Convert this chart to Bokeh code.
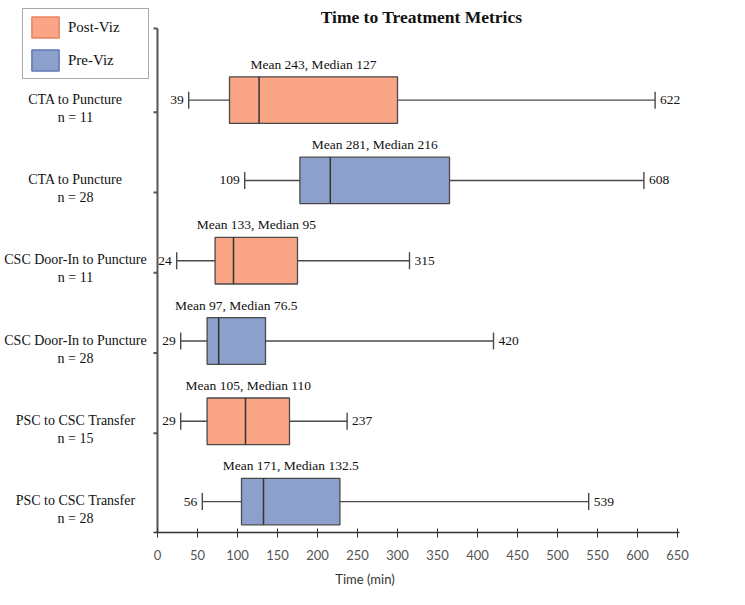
from bokeh.plotting import figure
from bokeh.models import (Range1d, FixedTicker, Legend, LegendItem,
                          ColumnDataSource, Whisker, TeeHead, LinearAxis)
from bokeh.core.properties import value
from bokeh.embed import file_html
from bokeh.resources import INLINE

# ---------------- data ----------------
categories = ["CTA to Puncture", "CTA to Puncture",
              "CSC Door-In to Puncture", "CSC Door-In to Puncture",
              "PSC to CSC Transfer", "PSC to CSC Transfer"]
n_values = [11, 28, 11, 28, 15, 28]
groups = ["Post-Viz", "Pre-Viz", "Post-Viz", "Pre-Viz", "Post-Viz", "Pre-Viz"]
mins = [39, 109, 24, 29, 29, 56]
q1s = [90, 178, 72, 62, 62, 105]
medians = [127, 216, 95, 76.5, 110, 132.5]
q3s = [300, 365, 175, 135, 165, 228]
maxs = [622, 608, 315, 420, 237, 539]
means = [243, 281, 133, 97, 105, 171]
x_ticks = [0, 50, 100, 150, 200, 250, 300, 350, 400, 450, 500, 550, 600, 650]
legend_labels = ["Post-Viz", "Pre-Viz"]
title_text = "Time to Treatment Metrics"
x_label = "Time (min)"

# ---------------- styles / layout ----------------
FILL = {"Post-Viz": "#FAA586", "Pre-Viz": "#8DA0CB"}
EDGE = {"Post-Viz": "#E8835F", "Pre-Viz": "#5C78B4"}
SERIF = "Liberation Serif"
SANS = "Lato"
INK = "#111111"
BOX_H = 0.58
Y_START, Y_END = 0.615, 7.241      # vertical view
AXIS_TOP = 6.893                   # top end of the drawn y axis line
X_START, X_END = -196.25, 715.0    # horizontal view (label area on the left)
NAN = float("nan")

ypos = list(range(len(categories), 0, -1))
src = ColumnDataSource(dict(
    y=ypos,
    lo=mins, q1=q1s, med=medians, q3=q3s, hi=maxs,
    fill=[FILL[g] for g in groups],
    ytop=[y + BOX_H / 2 for y in ypos],
    ybot=[y - BOX_H / 2 for y in ypos],
    ylab=[y - 0.1 for y in ypos],
    mid=[(a + b) / 2 for a, b in zip(q1s, q3s)],
    note=[f"Mean {m:g}, Median {d:g}" for m, d in zip(means, medians)],
    lo_txt=[f"{v:g}" for v in mins],
    hi_txt=[f"{v:g}" for v in maxs],
    cat_txt=[f"{c}\nn = {n}" for c, n in zip(categories, n_values)],
    zero=[0] * len(ypos),
))

p = figure(width=729, height=589, output_backend="svg", toolbar_location=None,
           x_range=Range1d(X_START, X_END), y_range=Range1d(Y_START, Y_END),
           x_axis_location=None, y_axis_location=None,
           min_border_left=0, min_border_right=0,
           min_border_top=0, min_border_bottom=55)
p.title = None
p.outline_line_color = None
p.xgrid.visible = False
p.ygrid.visible = False
p.background_fill_color = "white"
p.border_fill_color = "white"

# ---- y axis drawn inside the frame at x = 0 ----
ytick_vals = [y - 0.15 for y in ypos[:-1]] + [AXIS_TOP]
p.segment(x0=[0], x1=[0], y0=[Y_START], y1=[AXIS_TOP],
          line_color="#555555", line_width=2)
p.segment(x0=[0] * len(ytick_vals), x1=[-5] * len(ytick_vals),
          y0=ytick_vals, y1=ytick_vals, line_color="#555555", line_width=2)

# whiskers (under the boxes)
wh = Whisker(base="y", lower="lo", upper="hi", dimension="width", source=src,
             level="underlay", line_color="#4a4a4a", line_width=1.4,
             lower_head=TeeHead(size=17, line_color="#4a4a4a", line_width=1.4),
             upper_head=TeeHead(size=17, line_color="#4a4a4a", line_width=1.4))
p.add_layout(wh)

p.hbar(y="y", left="q1", right="q3", height=BOX_H, source=src,
       fill_color="fill", line_color="#4a4a4a", line_width=1.3)
p.segment(x0="med", x1="med", y0="ybot", y1="ytop", source=src,
          line_color="#333333", line_width=1.5)

p.text(x="mid", y="ytop", text="note", source=src, y_offset=-5,
       text_align="center", text_baseline="bottom",
       text_font=value(SERIF), text_font_size="13.5px", text_color=INK)
p.text(x="lo", y="y", text="lo_txt", source=src, x_offset=-5,
       text_align="right", text_baseline="middle",
       text_font=value(SERIF), text_font_size="13.5px", text_color=INK)
p.text(x="hi", y="y", text="hi_txt", source=src, x_offset=5,
       text_align="left", text_baseline="middle",
       text_font=value(SERIF), text_font_size="13.5px", text_color=INK)

# category labels (left of the y axis)
p.text(x="zero", y="ylab", text="cat_txt", source=src, x_offset=-82,
       text_align="center", text_baseline="middle",
       text_font=value(SERIF), text_font_size="14px", text_color=INK,
       text_line_height=1.2)

# title
p.text(x=[0], y=[Y_END], text=[title_text], x_offset=264, y_offset=16,
       text_align="center", text_baseline="middle",
       text_font=value(SERIF), text_font_style="bold",
       text_font_size="17.5px", text_color=INK)

# ---- x axis ----
xa = LinearAxis(ticker=FixedTicker(ticks=x_ticks), bounds=(-5, 652))
xa.axis_label = x_label
xa.axis_label_text_font = SANS
xa.axis_label_text_font_style = "normal"
xa.axis_label_text_font_size = "13px"
xa.axis_label_text_color = "#333333"
xa.axis_label_standoff = 8
xa.major_label_text_font = SANS
xa.major_label_text_font_size = "13px"
xa.major_label_text_color = "#555555"
xa.major_label_standoff = 12
xa.axis_line_color = "#333333"
xa.axis_line_width = 1.5
xa.major_tick_line_color = "#333333"
xa.major_tick_in = 4
xa.major_tick_out = 5
xa.minor_tick_line_color = None
p.add_layout(xa, "below")

# legend swatches: renderers whose single row is NaN (never drawn in the plot)
items = []
for g in legend_labels:
    r = p.quad(left=[NAN], right=[NAN], top=[NAN], bottom=[NAN],
               fill_color=FILL[g], line_color=EDGE[g], line_width=1.5)
    items.append(LegendItem(label=g, renderers=[r]))
legend = Legend(items=items,
                location=(22, 453), glyph_width=34, glyph_height=26,
                padding=5, spacing=7, label_standoff=6, label_width=75,
                label_text_font=SERIF, label_text_font_size="15px",
                label_text_color=INK, border_line_color="#555555",
                border_line_width=1.5, background_fill_alpha=1,
                margin=0)
p.add_layout(legend)

open("out.html", "w").write(file_html(p, INLINE))
